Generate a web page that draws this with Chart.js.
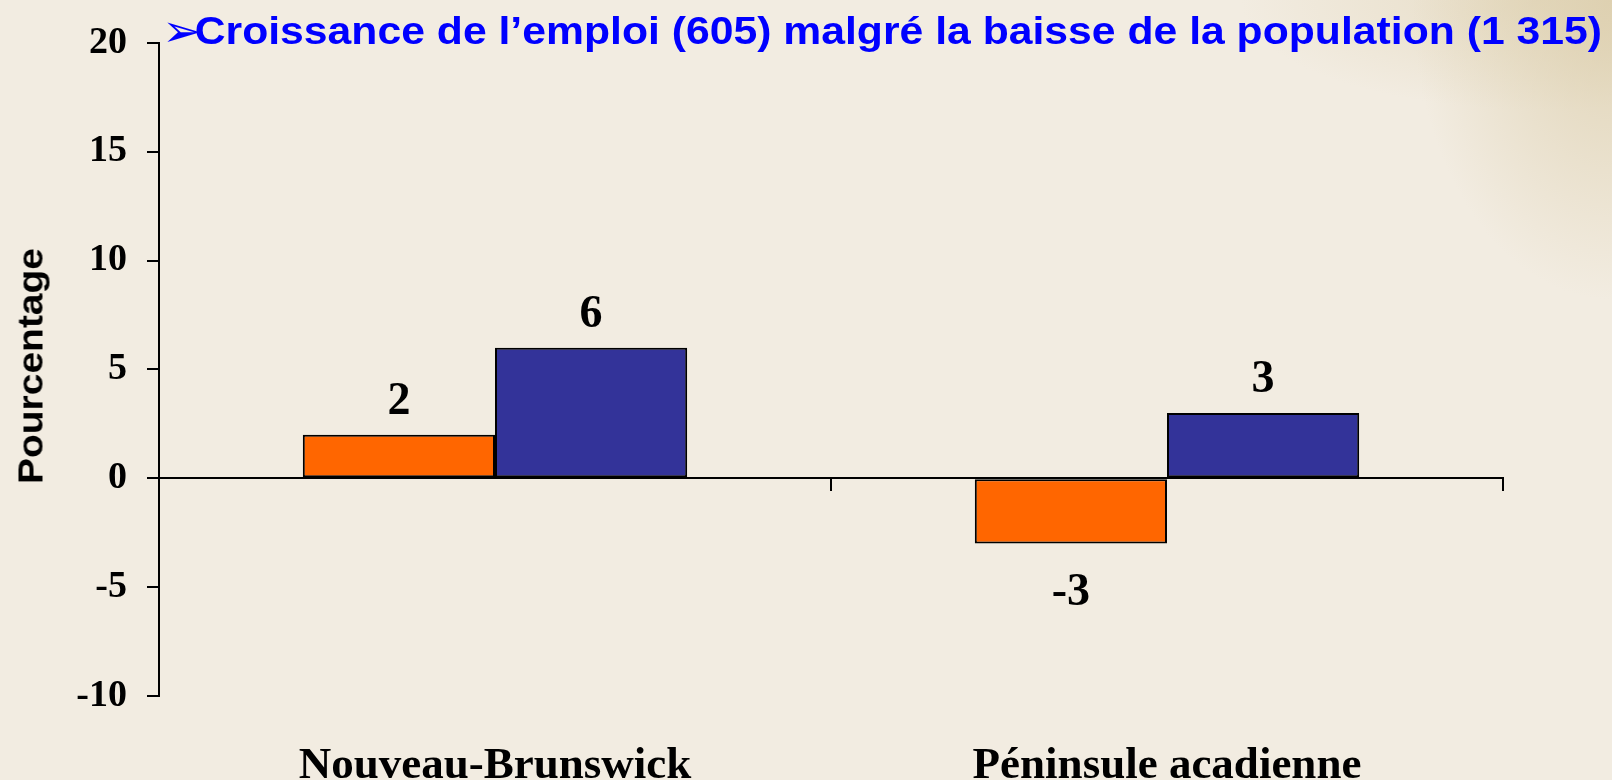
<!DOCTYPE html>
<html><head><meta charset="utf-8">
<script src="https://cdn.jsdelivr.net/npm/chart.js@4.4.0/dist/chart.umd.min.js"></script>
<style>
html,body{margin:0;padding:0;}
body{width:1612px;height:780px;overflow:hidden;position:relative;
 background:
  radial-gradient(ellipse 200px 300px at 1612px 0px, rgba(220,206,172,0.85), rgba(220,206,172,0) 100%),
  radial-gradient(ellipse 300px 110px at 1540px 0px, rgba(226,214,186,0.7), rgba(226,214,186,0) 100%),
  #f2ece1;}
#wrap{position:absolute;left:0;top:0;width:1612px;height:780px;}
#title{position:absolute;left:162px;top:11px;white-space:nowrap;font-weight:bold;font-size:39px;line-height:1;font-family:"Liberation Sans",Arial,sans-serif;color:#0000ff;transform-origin:0 0;}
#title .arr{font-family:"DejaVu Sans";font-weight:normal;font-size:44px;line-height:0;position:relative;top:2px;margin-right:-7px;}
#ytitle{position:absolute;left:30px;top:366px;white-space:nowrap;font-weight:bold;font-size:35px;line-height:1;font-family:"Liberation Sans",Arial,sans-serif;color:#000;transform-origin:center;}
</style></head>
<body>
<div id="wrap"><canvas id="c" width="1612" height="780"></canvas></div>
<div id="title"><span class="arr">➢</span>Croissance de l’emploi (605) malgré la baisse de la population (1 315)</div>
<div id="ytitle">Pourcentage</div>
<script>
const categories = ['Nouveau-Brunswick', 'Péninsule acadienne'];
const seriesNames = ['Population', 'Emploi'];
const populationChange = [2, -3];
const employmentChange = [6, 3];
const yTickMin = -10;
const yTickMax = 20;
const yTickStep = 5;

const serif = '"Liberation Serif", "Times New Roman", serif';

const valueLabels = {
  id: 'valueLabels',
  afterDatasetsDraw(chart) {
    const ctx = chart.ctx;
    ctx.save();
    ctx.font = 'bold 46px ' + serif;
    ctx.fillStyle = '#000';
    ctx.textAlign = 'center';
    ctx.textBaseline = 'alphabetic';
    chart.data.datasets.forEach((ds, i) => {
      const meta = chart.getDatasetMeta(i);
      meta.data.forEach((bar, j) => {
        const v = ds.data[j];
        const y = v >= 0 ? bar.y - 21 : bar.y + 61;
        ctx.fillText(String(v), bar.x, y);
      });
    });
    ctx.restore();
  }
};

new Chart(document.getElementById('c'), {
  type: 'bar',
  data: {
    labels: categories,
    datasets: [
      { label: seriesNames[0], data: populationChange, backgroundColor: '#ff6600', borderColor: '#000', borderWidth: 2, borderSkipped: false, xAxisID: 'x', yAxisID: 'y' },
      { label: seriesNames[1], data: employmentChange, backgroundColor: '#333399', borderColor: '#000', borderWidth: 2, borderSkipped: false, xAxisID: 'x', yAxisID: 'y' }
    ]
  },
  options: {
    responsive: false,
    animation: false,
    categoryPercentage: 0.572,
    barPercentage: 1.0,
    layout: { padding: { top: 39, right: 109, bottom: 0, left: 0 } },
    plugins: { legend: { display: false }, tooltip: { enabled: false }, title: { display: false } },
    scales: {
      x: {
        type: 'category',
        position: 'bottom',
        offset: true,
        grid: { display: false, drawTicks: false, offset: true },
        border: { display: false },
        ticks: { color: '#000', font: { family: serif, weight: 'bold', size: 45 }, padding: 43, maxRotation: 0, autoSkip: false },
        afterFit(scale) { scale.height = 84; }
      },
      x0: {
        type: 'category',
        labels: categories,
        position: { y: 0 },
        offset: true,
        grid: { display: true, drawOnChartArea: false, drawTicks: true, tickLength: 12, color: '#000', lineWidth: 2, offset: true },
        border: { display: true, color: '#000', width: 2 },
        ticks: { display: false },
        afterFit(scale) { scale.height = 0; }
      },
      y: {
        position: 'left',
        min: yTickMin,
        max: yTickMax,
        ticks: { stepSize: yTickStep, color: '#000', font: { family: serif, weight: 'bold', size: 38 }, padding: 20 },
        grid: { display: true, drawOnChartArea: false, drawTicks: true, tickLength: 12, color: '#000', lineWidth: 2 },
        border: { display: true, color: '#000', width: 2 },
        afterFit(scale) { scale.width = 159; }
      }
    }
  },
  plugins: [valueLabels]
});

// fit titles to the reference's text extents
(function(){
  const t = document.getElementById('title');
  const w = t.getBoundingClientRect().width;
  t.style.transform = 'scaleX(' + (1440 / w) + ')';
  const yt = document.getElementById('ytitle');
  const yw = yt.getBoundingClientRect().width;
  yt.style.transform = 'translate(-50%,-50%) rotate(-90deg) scaleX(' + (236 / yw) + ')';
})();
</script>
</body></html>
